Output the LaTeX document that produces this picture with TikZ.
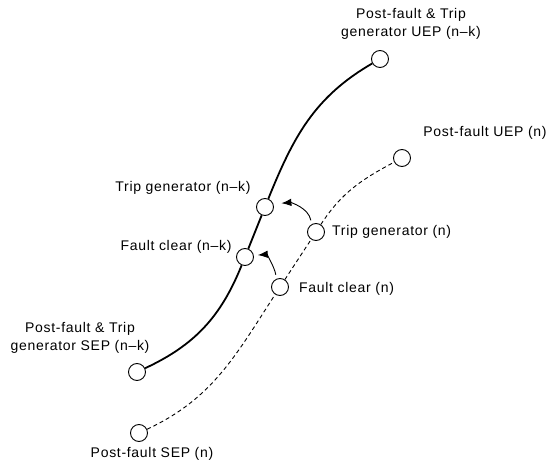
\documentclass[tikz,border=0pt]{standalone}
\usepackage{fontspec}
\setmainfont{Liberation Sans}[LetterSpace=5]
\usetikzlibrary{arrows.meta}
\begin{document}
\begin{tikzpicture}[x=1pt,y=1pt,
  pt/.style={circle,draw,line width=0.9pt,fill=white,minimum size=17pt,inner sep=0pt},
  lbl/.style={font=\fontsize{14}{18}\selectfont,align=center,inner sep=0pt},
  solidpath/.style={line width=1.8pt},
  dashpath/.style={line width=0.9pt,dash pattern=on 4pt off 3pt},
  jump/.style={line width=0.9pt,-{Latex[length=10pt,width=7.5pt]}}]
\useasboundingbox (0,0) rectangle (558,-463);

% equilibrium points
\node[pt] (uepk) at (380,-59) {};
\node[pt] (uepn) at (402,-158) {};
\node[pt] (tgk)  at (265,-207) {};
\node[pt] (tgn)  at (316,-232) {};
\node[pt] (fck)  at (245,-257) {};
\node[pt] (fcn)  at (280,-287) {};
\node[pt] (sepk) at (137,-372) {};
\node[pt] (sepn) at (139,-433) {};

% trajectory with the generator tripped (n-k)
\draw[solidpath] (sepk) to[out=25,in=248] (fck);
\draw[solidpath] (fck) -- (tgk);
\draw[solidpath] (tgk) to[out=68,in=210] (uepk);

% trajectory of the intact system (n)
\draw[dashpath] (sepn) to[out=25,in=237] (fcn);
\draw[dashpath] (fcn) -- (tgn);
\draw[dashpath] (tgn) to[out=57,in=208] (uepn);

% jumps between the two trajectories
\draw[jump,shorten <=4pt,shorten >=8pt] (tgn.120) to[out=100,in=5] (tgk.20);
\draw[jump,shorten <=4pt,shorten >=4pt] (fcn.113) to[out=100,in=5] (fck.10);

% labels
\node[lbl] (l1) at (411,-24) {Post-fault \& Trip\\generator UEP (n–k)};
\node[lbl] (l2) at (485,-133) {Post-fault UEP (n)};
\node[lbl] (l3) at (183,-188) {Trip generator (n–k)};
\node[lbl,anchor=west] (l4) at (332,-232) {Trip generator (n)};
\node[lbl] (l5) at (176,-247) {Fault clear (n–k)};
\node[lbl,anchor=west] (l6) at (299,-289) {Fault clear (n)};
\node[lbl] (l7) at (80,-338) {Post-fault \& Trip\\generator SEP (n–k)};
\node[lbl] (l8) at (152,-454) {Post-fault SEP (n)};
\end{tikzpicture}
\end{document}
